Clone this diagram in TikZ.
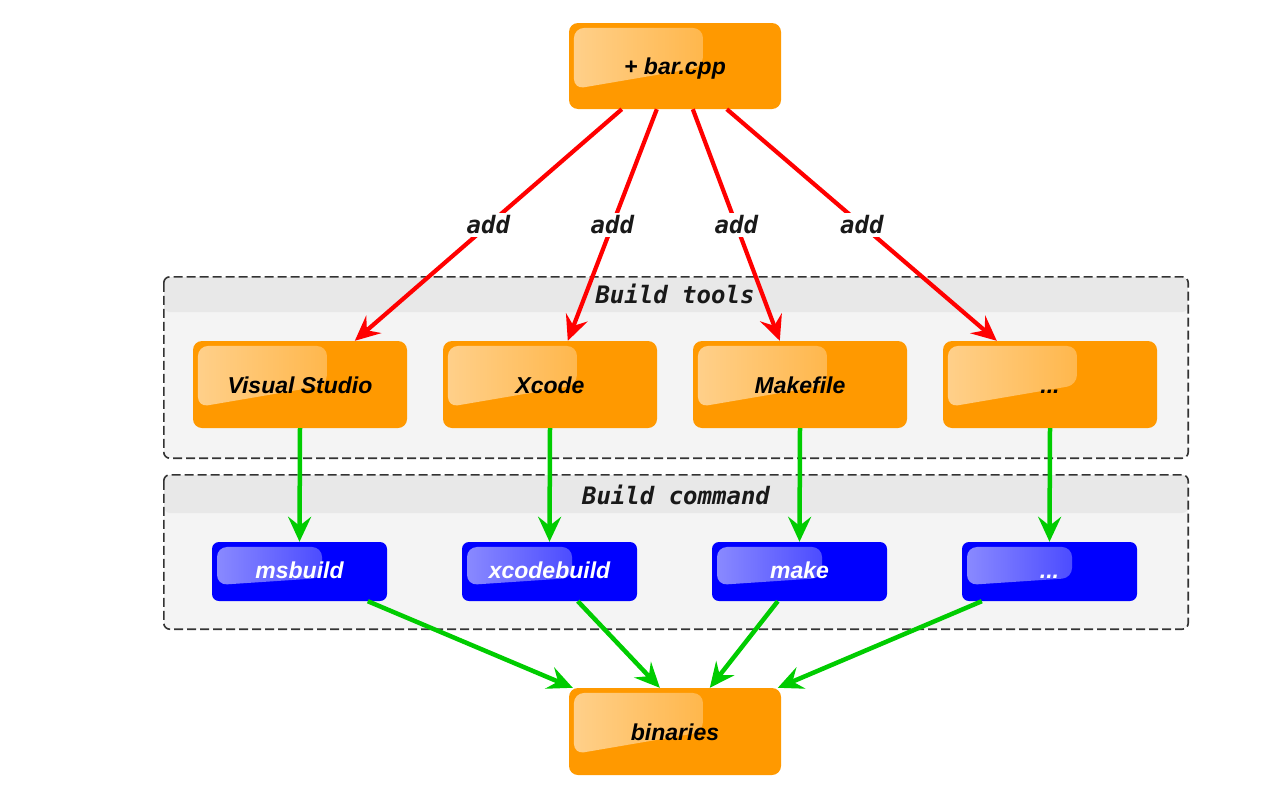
\documentclass[tikz,border=0pt]{standalone}
\usepackage{fontspec}
\newfontfamily\nodefont{Liberation Sans}
\newfontfamily\labfont{DejaVu Sans Mono}
\usetikzlibrary{arrows.meta,fadings,calc}
\definecolor{nodeorange}{HTML}{FF9900}
\definecolor{nodeblue}{HTML}{0000FF}
\definecolor{arrred}{HTML}{FF0000}
\definecolor{arrgreen}{HTML}{00CC00}
\definecolor{hdrgray}{HTML}{E8E8E8}
\definecolor{bodygray}{HTML}{F4F4F4}
\tikzfading[name=glossfade, left color=transparent!45, right color=transparent!85]
% gloss highlight: right edge #1, bottom at right #2, bottom at left #3 (offsets from the node's north west corner)
\newcommand{\myglossy}[3]{%
  \fill[white, path fading=glossfade, rounded corners=10pt]
    ([shift={(5pt,-5pt)}]path picture bounding box.north west)
    -- ([shift={(#1,-5pt)}]path picture bounding box.north west)
    -- ([shift={(#1,-#2)}]path picture bounding box.north west)
    -- ([shift={(5pt,-#3)}]path picture bounding box.north west)
    -- cycle;}
\tikzset{
  orangebox/.style={rectangle, rounded corners=9pt, fill=nodeorange, minimum width=214pt,
    minimum height=87pt, inner sep=0pt, text height=17pt, text depth=0pt, text=black,
    font=\nodefont\bfseries\itshape\fontsize{23}{27}\selectfont,
    path picture={\myglossy{134pt}{44pt}{66pt}}},
  bluebox/.style={rectangle, rounded corners=7pt, fill=nodeblue, minimum width=175pt,
    minimum height=59pt, inner sep=0pt, text height=13pt, text depth=0pt, text=white,
    font=\nodefont\bfseries\itshape\fontsize{23}{27}\selectfont,
    path picture={\myglossy{110pt}{36pt}{43pt}}},
  groupbox/.style={rectangle, rounded corners=6pt, fill=bodygray, minimum width=1024pt,
    inner sep=0pt},
  grouptitle/.style={font=\labfont\bfseries\itshape\fontsize{24}{28}\selectfont, text=black!90},
  redarrow/.style={draw=arrred, line width=4.2pt, -{Stealth[length=25pt,width=23pt,inset=9pt]}},
  greenarrow/.style={draw=arrgreen, line width=4.5pt, -{Stealth[length=25pt,width=23pt,inset=9pt]}},
  addlabel/.style={fill=white, inner sep=3pt, font=\labfont\bfseries\itshape\fontsize{24}{28}\selectfont, text=black!90},
  groupborder/.style={draw=black!80, line width=1.6pt, dash pattern=on 9pt off 4pt, rounded corners=6pt}
}
\begin{document}
\begin{tikzpicture}[x=1pt,y=-1pt]
\useasboundingbox (0,0) rectangle (1266,795);
% containers
\node[groupbox, minimum height=181pt,
  path picture={\fill[hdrgray] (path picture bounding box.north west) rectangle ([yshift=-35pt]path picture bounding box.north east);}]
  (tools) at (676,367.5) {};
\draw[groupborder] (tools.north west) rectangle (tools.south east);
\node[grouptitle] (toolstitle) at (675,294) {Build tools};
\node[groupbox, minimum height=154pt,
  path picture={\fill[hdrgray] (path picture bounding box.north west) rectangle ([yshift=-38pt]path picture bounding box.north east);}]
  (cmds) at (676,552) {};
\draw[groupborder] (cmds.north west) rectangle (cmds.south east);
\node[grouptitle] (cmdstitle) at (676,495) {Build command};
% nodes
\node[orangebox, minimum width=212pt, minimum height=86pt] (top) at (675,66) {+ bar.cpp};
\node[orangebox] (vs) at (300,384.5) {Visual Studio};
\node[orangebox] (xc) at (550,384.5) {Xcode};
\node[orangebox] (mk) at (800,384.5) {Makefile};
\node[orangebox] (ot) at (1050,384.5) {...};
\node[bluebox] (ms) at (299.5,571.5) {msbuild};
\node[bluebox] (xb) at (549.5,571.5) {xcodebuild};
\node[bluebox] (mkc) at (799.5,571.5) {make};
\node[bluebox] (otc) at (1049.5,571.5) {...};
\node[orangebox, minimum width=212pt] (bin) at (675,731.5) {binaries};
% red arrows
\draw[redarrow] ([xshift=53pt]top.south west) -- node[addlabel] {add} ([xshift=162pt]vs.north west);
\draw[redarrow] ([xshift=88pt]top.south west) -- node[addlabel] {add} ([xshift=125pt]xc.north west);
\draw[redarrow] ([xshift=124pt]top.south west) -- node[addlabel] {add} ([xshift=87pt]mk.north west);
\draw[redarrow] ([xshift=158pt]top.south west) -- node[addlabel] {add} ([xshift=54pt]ot.north west);
% green arrows
\draw[greenarrow] (vs.south) -- (ms.north);
\draw[greenarrow] (xc.south) -- (xb.north);
\draw[greenarrow] (mk.south) -- (mkc.north);
\draw[greenarrow] (ot.south) -- (otc.north);
\draw[greenarrow] ([xshift=156pt]ms.south west) -- ([xshift=4pt]bin.north west);
\draw[greenarrow] ([xshift=116pt]xb.south west) -- ([xshift=91pt]bin.north west);
\draw[greenarrow] ([xshift=66pt]mkc.south west) -- ([xshift=141pt]bin.north west);
\draw[greenarrow] ([xshift=20pt]otc.south west) -- ([xshift=209pt]bin.north west);
\end{tikzpicture}
\end{document}
